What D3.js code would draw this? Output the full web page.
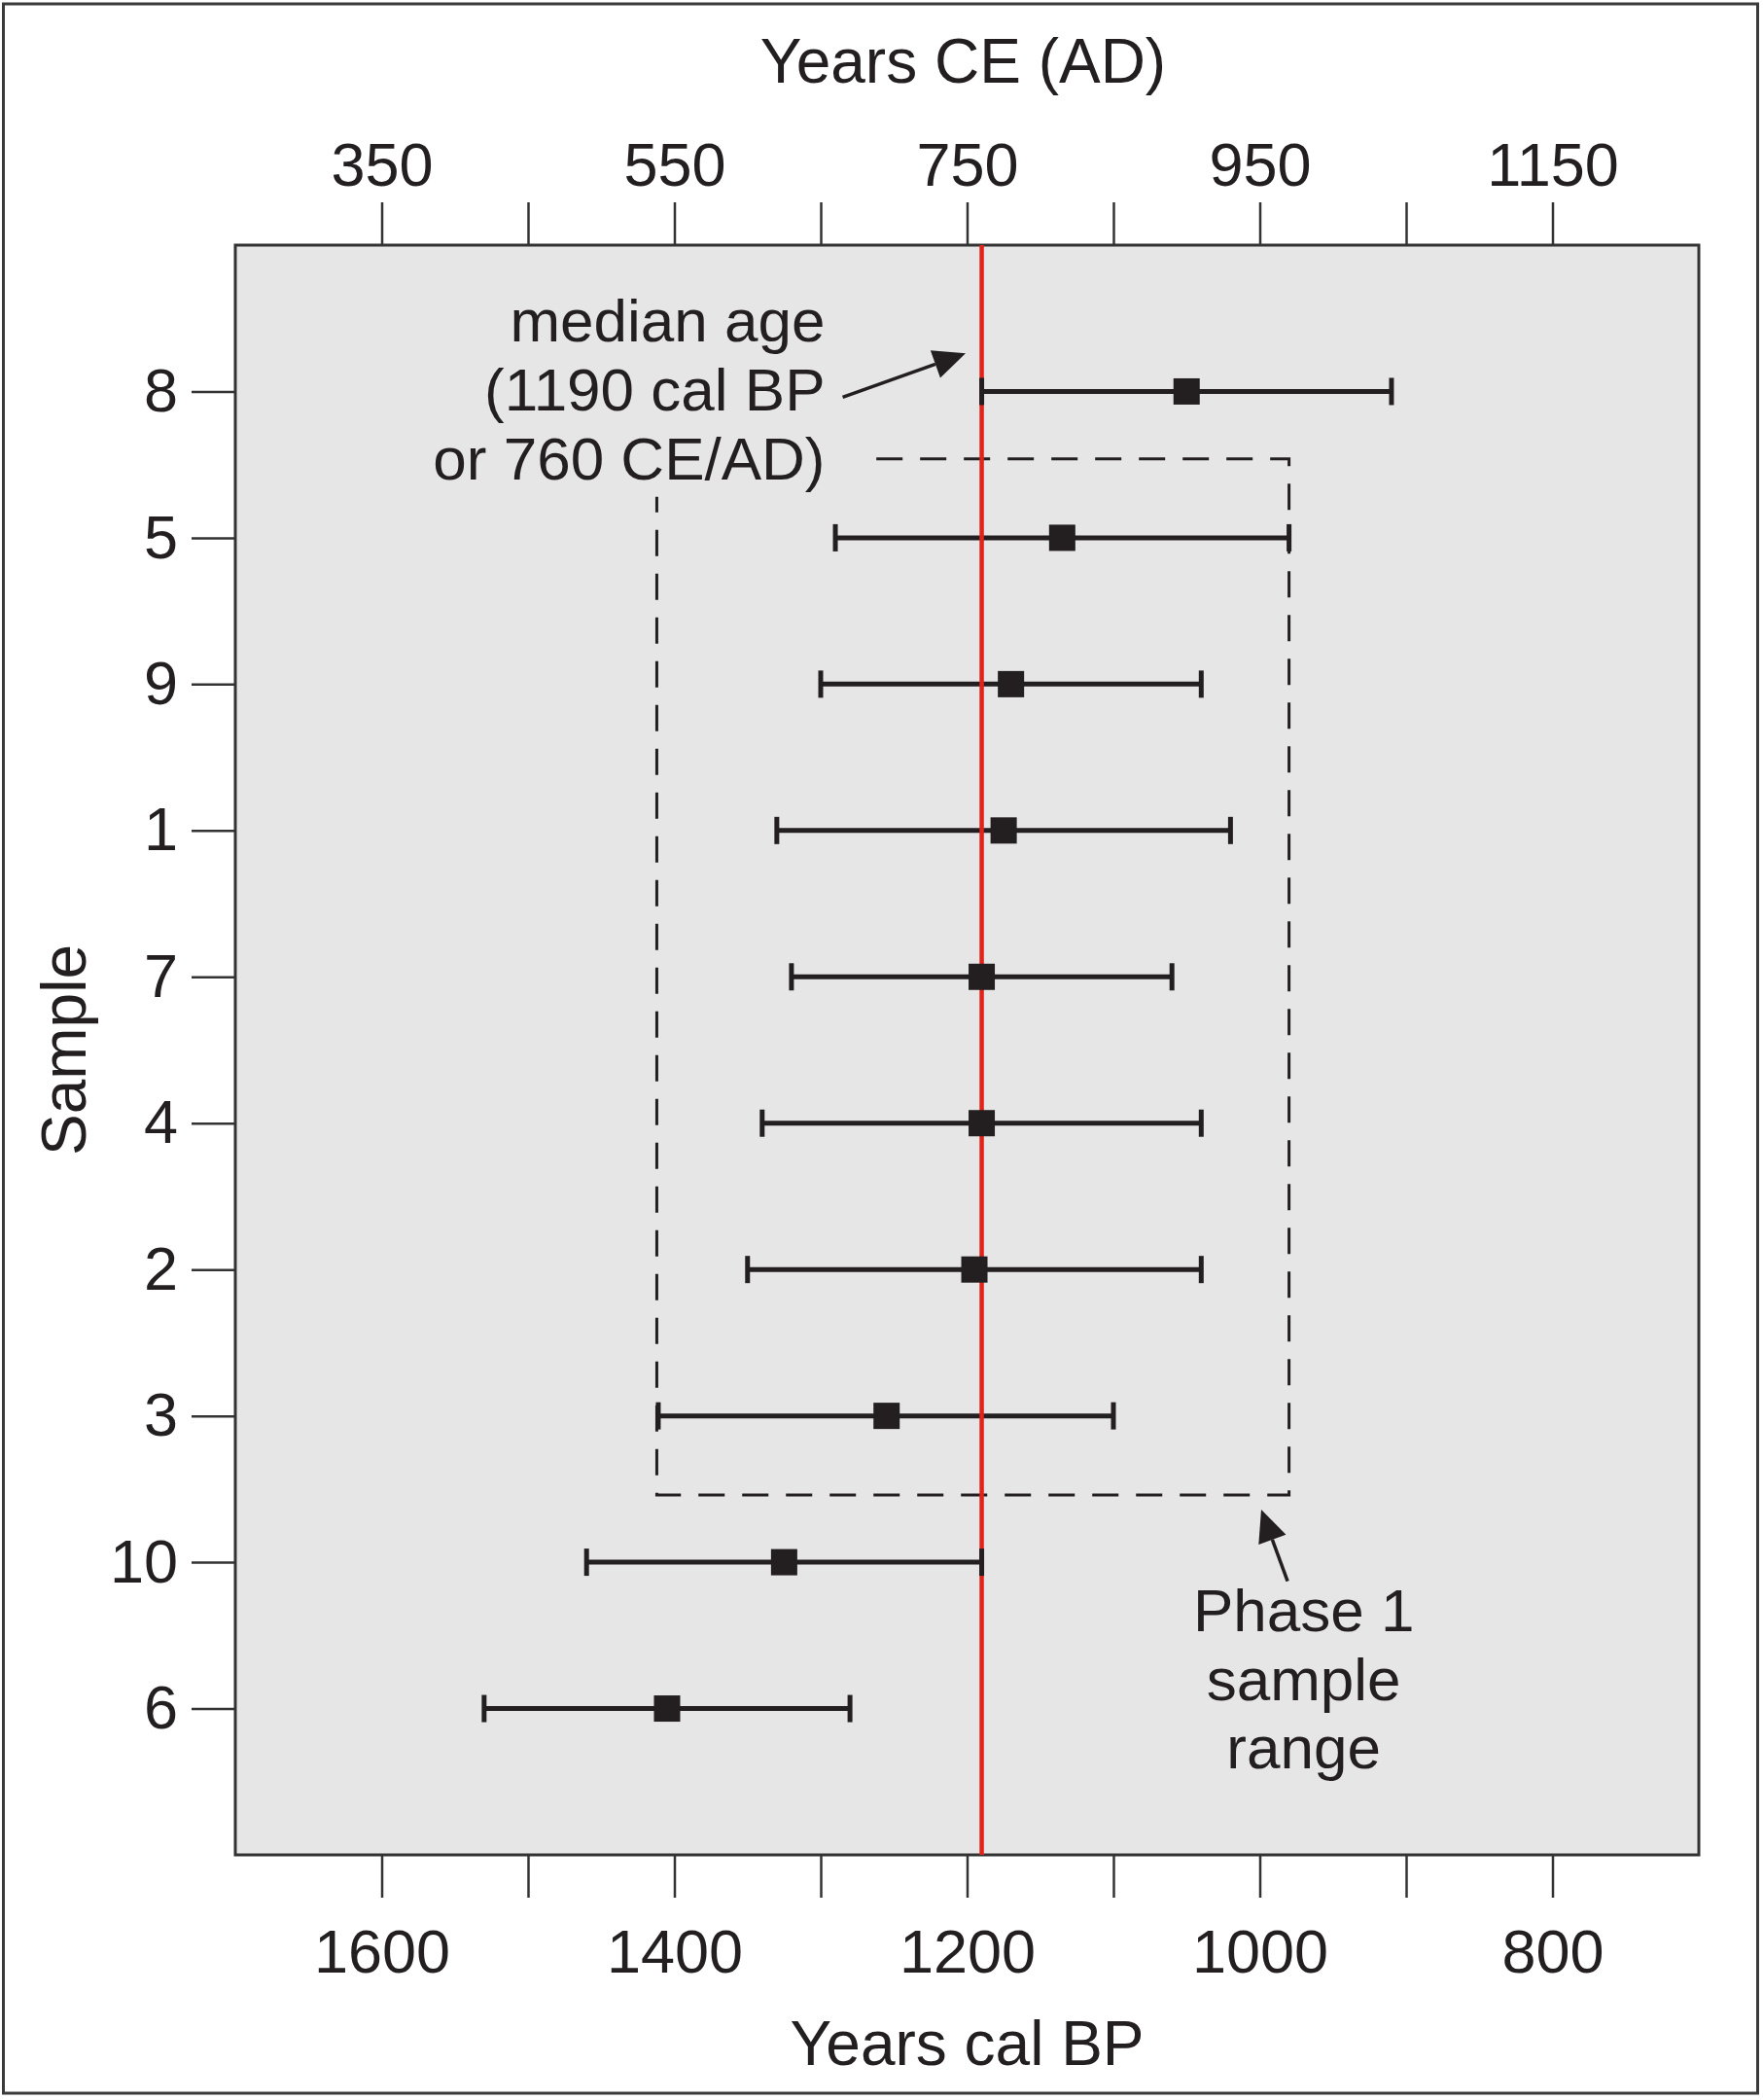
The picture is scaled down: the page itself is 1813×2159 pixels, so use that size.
<!DOCTYPE html>
<html>
<head>
<meta charset="utf-8">
<script src="https://cdn.jsdelivr.net/npm/d3@7"></script>
<style>
  html, body { margin: 0; padding: 0; background: #ffffff; }
  svg { display: block; }
  text { font-family: "Liberation Sans", Arial, Helvetica, sans-serif; fill: #231f20; }
</style>
</head>
<body>
<svg id="chart" width="1813" height="2159"></svg>
<script>
// ---------------- data ----------------
const samples   = ["8", "5", "9", "1", "7", "4", "2", "3", "10", "6"];
const olderBP   = [1190, 1290, 1300, 1330, 1320, 1340, 1350, 1411, 1460, 1530]; // left end of range
const medianBP  = [1050, 1135, 1170, 1175, 1190, 1190, 1195, 1255, 1325, 1405];
const youngerBP = [910, 980, 1040, 1020, 1060, 1040, 1040, 1100, 1190, 1280];   // right end of range
const medianAgeBP = 1190;
const phase1RangeBP = [1412, 980];
const bpTicks = [1600, 1500, 1400, 1300, 1200, 1100, 1000, 900, 800];
const bpLabels = [1600, 1400, 1200, 1000, 800];
const ceTicks = [350, 450, 550, 650, 750, 850, 950, 1050, 1150];
const ceLabels = [350, 550, 750, 950, 1150];
const medianNote = ["median age", "(1190 cal BP", "or 760 CE/AD)"];
const phaseNote = ["Phase 1", "sample", "range"];

// ---------------- layout ----------------
const W = 1813, H = 2159;
const plot = { left: 242, right: 1747, top: 252, bottom: 1907 };
const ink = "#231f20";

const svg = d3.select("#chart");

const x = d3.scaleLinear().domain([1700, 700]).range([plot.left, plot.right]);
const xCE = d3.scaleLinear().domain([1950 - 1700, 1950 - 700]).range([plot.left, plot.right]);
const y = d3.scaleLinear().domain([0, samples.length + 1]).range([plot.top, plot.bottom]);

// outer frame
svg.append("rect")
  .attr("x", 3.5).attr("y", 4).attr("width", 1804).attr("height", 2148)
  .attr("fill", "#ffffff").attr("stroke", "#3a3a3a").attr("stroke-width", 3);

// plot background
svg.append("rect")
  .attr("x", plot.left).attr("y", plot.top)
  .attr("width", plot.right - plot.left).attr("height", plot.bottom - plot.top)
  .attr("fill", "#e6e6e6");

// ---------------- axes ----------------
const fs = 63;
function styleAxis(g) {
  g.select(".domain").remove();
  g.selectAll(".tick line").attr("stroke", "#333").attr("stroke-width", 2.5);
  g.selectAll(".tick text").attr("font-size", fs).attr("fill", ink)
    .style("font-family", '"Liberation Sans", Arial, sans-serif');
}

svg.append("g")
  .attr("transform", `translate(0,${plot.bottom})`)
  .call(d3.axisBottom(x).tickValues(bpTicks).tickSize(44).tickPadding(32)
    .tickFormat(d => bpLabels.includes(d) ? String(d) : ""))
  .call(styleAxis);

svg.append("g")
  .attr("transform", `translate(0,${plot.top})`)
  .call(d3.axisTop(xCE).tickValues(ceTicks).tickSize(44).tickPadding(17)
    .tickFormat(d => ceLabels.includes(d) ? String(d) : ""))
  .call(styleAxis);

svg.append("g")
  .attr("transform", `translate(${plot.left},0)`)
  .call(d3.axisLeft(y).tickValues(samples.map((s, i) => i + 1)).tickSize(45).tickPadding(14)
    .tickFormat(d => samples[d - 1]))
  .call(styleAxis);

// plot border
svg.append("rect")
  .attr("x", plot.left).attr("y", plot.top)
  .attr("width", plot.right - plot.left).attr("height", plot.bottom - plot.top)
  .attr("fill", "none").attr("stroke", "#333").attr("stroke-width", 3);

// axis titles
const cx = (plot.left + plot.right) / 2;
svg.append("text").attr("x", cx - 4).attr("y", 85).attr("text-anchor", "middle")
  .attr("font-size", 64).text("Years CE (AD)");
svg.append("text").attr("x", cx).attr("y", 2123).attr("text-anchor", "middle")
  .attr("font-size", 64).text("Years cal BP");
svg.append("text")
  .attr("transform", `translate(88,${(plot.top + plot.bottom) / 2}) rotate(-90)`)
  .attr("text-anchor", "middle").attr("font-size", 64).text("Sample");

// ---------------- marks ----------------
const rows = samples.map((s, i) => ({ s, i: i + 1, lo: olderBP[i], med: medianBP[i], hi: youngerBP[i] }));

// dashed Phase 1 box (top-left corner hidden by the annotation)
const bx0 = x(phase1RangeBP[0]), bx1 = x(phase1RangeBP[1]);
const by0 = y(1.46), by1 = y(8.54);
svg.append("path")
  .attr("d", `M${x(1262)},${by0}H${bx1}V${by1}H${bx0}V${y(1.72)}`)
  .attr("fill", "none").attr("stroke", ink).attr("stroke-width", 3)
  .attr("stroke-dasharray", "27,18");

// whisker lines
svg.append("g").selectAll("line").data(rows).join("line")
  .attr("x1", d => x(d.lo)).attr("x2", d => x(d.hi))
  .attr("y1", d => y(d.i)).attr("y2", d => y(d.i))
  .attr("stroke", ink).attr("stroke-width", 5);

// red median line
svg.append("line")
  .attr("x1", x(medianAgeBP)).attr("x2", x(medianAgeBP))
  .attr("y1", plot.top).attr("y2", plot.bottom)
  .attr("stroke", "#e2231a").attr("stroke-width", 4.5);

// caps
const capH = 28;
const caps = rows.flatMap(d => [{ v: d.lo, i: d.i }, { v: d.hi, i: d.i }]);
svg.append("g").selectAll("line").data(caps).join("line")
  .attr("x1", d => x(d.v)).attr("x2", d => x(d.v))
  .attr("y1", d => y(d.i) - capH / 2).attr("y2", d => y(d.i) + capH / 2)
  .attr("stroke", ink).attr("stroke-width", 5);

// median squares
const sq = 27;
svg.append("g").selectAll("rect").data(rows).join("rect")
  .attr("x", d => x(d.med) - sq / 2).attr("y", d => y(d.i) - sq / 2)
  .attr("width", sq).attr("height", sq).attr("fill", ink);

// ---------------- annotations ----------------
const afs = 62;
svg.append("g").selectAll("text").data(medianNote).join("text")
  .attr("x", x(1297)).attr("y", (d, k) => y(0.66 + k * 0.472))
  .attr("text-anchor", "end").attr("font-size", afs).text(d => d);

svg.append("g").selectAll("text").data(phaseNote).join("text")
  .attr("x", x(970)).attr("y", (d, k) => y(9.47 + k * 0.47))
  .attr("text-anchor", "middle").attr("font-size", afs).text(d => d);

function arrow(x1, y1, x2, y2) {
  const ang = Math.atan2(y2 - y1, x2 - x1);
  const L = 33, hw = 15;
  const bx = x2 - L * Math.cos(ang), by = y2 - L * Math.sin(ang);
  svg.append("line").attr("x1", x1).attr("y1", y1).attr("x2", bx).attr("y2", by)
    .attr("stroke", ink).attr("stroke-width", 3.5);
  const px = -Math.sin(ang) * hw, py = Math.cos(ang) * hw;
  svg.append("path")
    .attr("d", `M${x2},${y2}L${bx + px},${by + py}L${bx - px},${by - py}Z`)
    .attr("fill", ink);
}
arrow(x(1285), y(1.04), x(1201), y(0.74));
arrow(x(981), y(9.13), x(999), y(8.64));
</script>
</body>
</html>
